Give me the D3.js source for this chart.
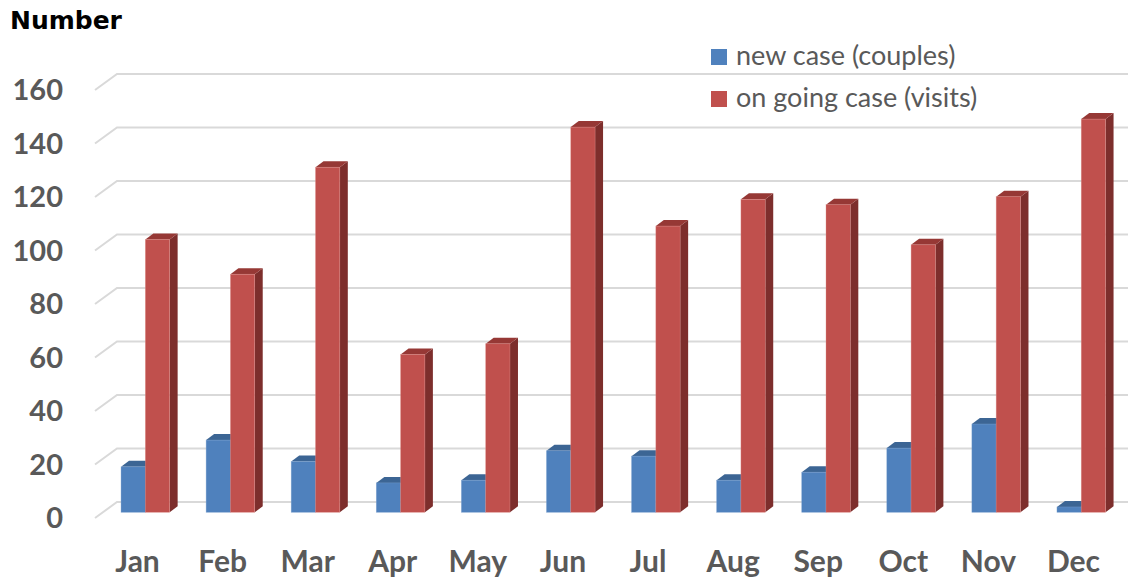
<!DOCTYPE html>
<html>
<head>
<meta charset="utf-8">
<script src="https://cdn.jsdelivr.net/npm/d3@7"></script>
<style>
  body { margin: 0; background: #fff; }
  svg { display: block; }
</style>
</head>
<body>
<svg width="1130" height="579"></svg>
<script>
// Chart data
var months = ["Jan", "Feb", "Mar", "Apr", "May", "Jun", "Jul", "Aug", "Sep", "Oct", "Nov", "Dec"];
var newCases = [17, 27, 19, 11, 12, 23, 21, 12, 15, 24, 33, 2];
var ongoingCases = [102, 89, 129, 59, 63, 144, 107, 117, 115, 100, 118, 147];
var yTicks = [0, 20, 40, 60, 80, 100, 120, 140, 160];
var seriesNames = ["new case (couples)", "on going case (visits)"];

var svg = d3.select("svg");

// 3D look: floor depth and bar depth offsets
var floorDx = 22, floorDy = 16;
var barDx = 8, barDy = 6;

var x = d3.scaleBand()
    .domain(months)
    .range([95, 1116]);

// y is for the bar front faces
var y = d3.scaleLinear()
    .domain([0, 160])
    .range([512.3, 84.3]);

var backShift = -10.3, frontShift = 5.7;

// gridlines: a slanted stub on the side wall + a line on the back wall
var grid = svg.append("g").attr("class", "grid");
yTicks.forEach(function(v) {
  var yb = y(v) + backShift, yf = y(v) + frontShift;
  grid.append("path")
      .attr("d", "M95," + yf + "L" + (95 + floorDx) + "," + yb + "L1128," + yb)
      .attr("fill", "none")
      .attr("stroke", "#d9d9d9")
      .attr("stroke-width", 2);
});

// y tick labels
svg.append("g").selectAll("text")
    .data(yTicks)
    .enter().append("text")
    .attr("x", 63)
    .attr("y", function(d) { return y(d) + frontShift; })
    .attr("dy", "0.36em")
    .attr("text-anchor", "end")
    .attr("font-family", "Lato, sans-serif")
    .attr("font-weight", 700)
    .attr("font-size", 29)
    .attr("fill", "#595959")
    .text(function(d) { return d; });

// x labels
svg.append("g").selectAll("text")
    .data(months)
    .enter().append("text")
    .attr("x", function(d) { return x(d) + x.bandwidth() / 2; })
    .attr("y", 572)
    .attr("text-anchor", "middle")
    .attr("font-family", "Lato, sans-serif")
    .attr("font-weight", 700)
    .attr("font-size", 30)
    .attr("fill", "#595959")
    .text(function(d) { return d; });

var barW = 24.3;
var colors = [
  { front: "#4f81bd", top: "#3c6594", side: "#385d8a", edge: "#7ea3d1" },
  { front: "#c0504d", top: "#963835", side: "#7d2e2c", edge: "#e08f8c" }
];

function drawBar(g, x0, v, c) {
  var yt = y(v), yb = y(0), w = barW;
  // side
  g.append("path")
      .attr("d", "M" + (x0 + w) + "," + yb + "L" + (x0 + w + barDx) + "," + (yb - barDy) +
            "L" + (x0 + w + barDx) + "," + (yt - barDy) + "L" + (x0 + w) + "," + yt + "Z")
      .attr("fill", c.side);
  // top
  g.append("path")
      .attr("d", "M" + x0 + "," + yt + "L" + (x0 + barDx) + "," + (yt - barDy) +
            "L" + (x0 + w + barDx) + "," + (yt - barDy) + "L" + (x0 + w) + "," + yt + "Z")
      .attr("fill", c.top);
  // front
  g.append("rect")
      .attr("x", x0)
      .attr("y", yt)
      .attr("width", w)
      .attr("height", Math.max(0, yb - yt))
      .attr("fill", c.front)
      .attr("stroke", c.edge)
      .attr("stroke-width", 0.6)
      .attr("stroke-opacity", 0.6);
}

var bars = svg.append("g").attr("class", "bars");
months.forEach(function(m, i) {
  var cx = x(m) + x.bandwidth() / 2;
  var g = bars.append("g");
  drawBar(g, cx - 16.5, newCases[i], colors[0]);
  drawBar(g, cx - 16.5 + barW, ongoingCases[i], colors[1]);
});

// axis title
svg.append("text")
    .attr("x", 10)
    .attr("y", 29)
    .attr("font-family", "DejaVu Sans, sans-serif")
    .attr("font-weight", 700)
    .attr("font-size", 25)
    .attr("fill", "#000")
    .text("Number");

// legend
var legend = svg.append("g").attr("class", "legend");
seriesNames.forEach(function(name, i) {
  var ly = 65 + i * 42;
  legend.append("rect")
      .attr("x", 711)
      .attr("y", ly - 16)
      .attr("width", 16)
      .attr("height", 16)
      .attr("fill", colors[i].front);
  legend.append("text")
      .attr("x", 736)
      .attr("y", ly)
      .attr("font-family", "Lato, sans-serif")
      .attr("font-size", 27)
      .attr("fill", "#595959")
      .text(name);
});
</script>
</body>
</html>
